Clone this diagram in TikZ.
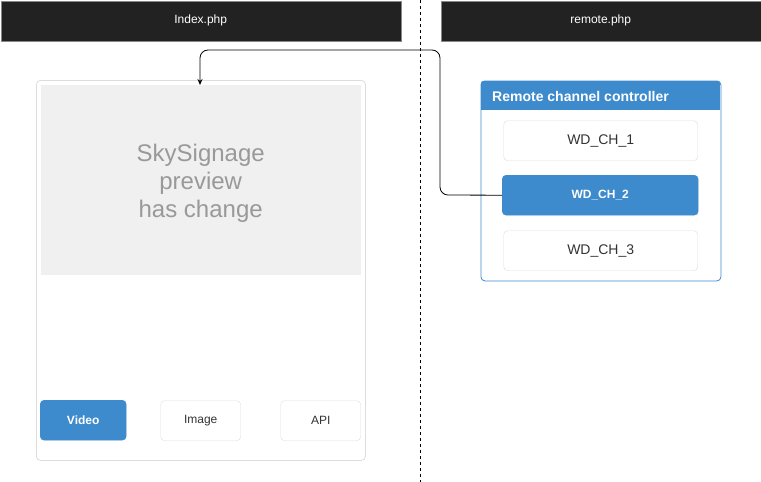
\documentclass[tikz,border=0pt]{standalone}
\usepackage{fontspec}
\setmainfont{Liberation Sans}
\usetikzlibrary{arrows.meta}
\definecolor{hdr}{HTML}{222222}
\definecolor{hdrline}{HTML}{888888}
\definecolor{blu}{HTML}{3D8ACD}
\definecolor{lgray}{HTML}{DDDDDD}
\definecolor{pgray}{HTML}{F0F0F0}
\definecolor{tgray}{HTML}{999999}
\definecolor{dtext}{HTML}{333333}
\begin{document}
\begin{tikzpicture}[x=1pt,y=-1pt,
  header/.style={draw=hdrline,fill=hdr,text=white,font=\fontsize{12}{14}\selectfont,inner sep=0pt},
  btnw/.style={draw=lgray,fill=white,rounded corners=4pt,text=dtext,font=\fontsize{12}{14}\selectfont,inner sep=0pt},
  btnb/.style={draw=blu,fill=blu,rounded corners=4pt,text=white,font=\bfseries\fontsize{12}{14}\selectfont,inner sep=0pt},
  conn/.style={draw=black,line width=0.8pt,rounded corners=8pt,-{Stealth[length=6pt,width=5pt]}}
]
\useasboundingbox (0,0) rectangle (761,482);
\fill[white] (0,0) rectangle (761,482);
% headers
\node[header,minimum width=400pt,minimum height=40pt,anchor=north west] (h1) at (0.5,0.5) {Index.php};
\node[header,minimum width=320pt,minimum height=40pt,anchor=north west] (h2) at (440.5,0.5) {remote.php};
% divider
\coordinate (d1) at (420,0);
\coordinate (d2) at (420,482);
\draw[line width=0.6pt,dash pattern=on 3pt off 3pt] (d1) -- (d2);
% left panel
\node[draw=lgray,fill=white,rounded corners=4pt,minimum width=329pt,minimum height=380pt,anchor=north west,inner sep=0pt,line width=0.8pt] (lp) at (36,80) {};
\node[fill=pgray,minimum width=320pt,minimum height=190pt,anchor=north west,inner sep=0pt] (pv) at (40.5,85) {};
\node[text=tgray,align=center,font=\fontsize{24}{28}\selectfont,inner sep=0pt] (pvt) at ([yshift=-3pt]pv.center) {SkySignage\\preview\\has change};
% buttons
\node[btnb,minimum width=86pt,minimum height=40pt,anchor=north west] (video) at (40,400) {Video};
\node[btnw,minimum width=80pt,minimum height=40pt,anchor=north west] (image) at (160.5,400.5) {Image};
\node[btnw,minimum width=80pt,minimum height=40pt,anchor=north west] (api) at (280.5,400.5) {API};
% right panel
\node[draw=blu,fill=white,rounded corners=4pt,minimum width=240pt,minimum height=200pt,anchor=north west,inner sep=0pt,line width=0.8pt] (rp) at (480.5,80.5) {};
\begin{scope}
\clip[rounded corners=4pt] (480.5,80.5) rectangle (720.5,280.5);
\fill[blu] (480.5,80.5) rectangle (720.5,110);
\end{scope}
\node[anchor=west,text=white,font=\bfseries\fontsize{14}{16}\selectfont,inner sep=0pt] (rt) at (492,96) {Remote channel controller};
\node[btnw,minimum width=194pt,minimum height=40pt,anchor=north west,font=\fontsize{14}{16}\selectfont] (c1) at (503.5,120.5) {WD\_CH\_1};
\node[btnb,minimum width=196pt,minimum height=40pt,anchor=north west] (c2) at (502,175) {WD\_CH\_2};
\node[btnw,minimum width=194pt,minimum height=40pt,anchor=north west,font=\fontsize{14}{16}\selectfont] (c3) at (503.5,230.5) {WD\_CH\_3};
% connector
\draw[conn] (c2.west) -- (440,195) -- (440,50) -- (200,50) -- (200,85);
\end{tikzpicture}
\end{document}
